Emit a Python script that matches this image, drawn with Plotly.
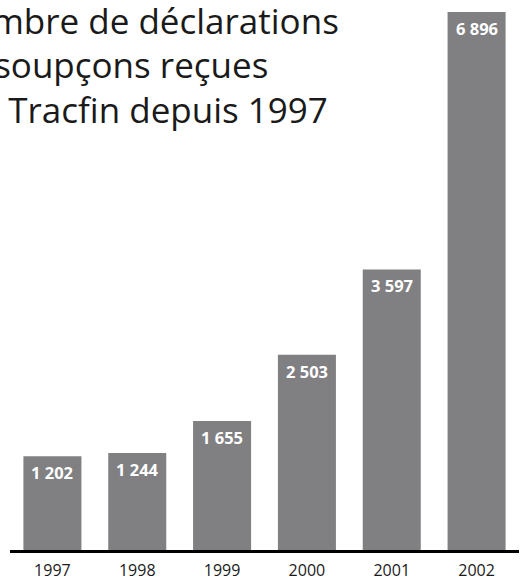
import plotly.graph_objects as go

years = ["1997", "1998", "1999", "2000", "2001", "2002"]
declarations = [1202, 1244, 1655, 2503, 3597, 6896]
title_lines = ["Nombre de déclarations", "de soupçons reçues", "par Tracfin depuis 1997"]

BAR_COLOR = "#808082"
FONT = "Open Sans"
TITLE_SIZE = 35
TITLE_LINE_SHIFTS = [5, -39, -84]  # px offset of each title line from the top

labels = [f"{v:,}".replace(",", " ") for v in declarations]

fig = go.Figure(
    go.Bar(
        x=years,
        y=declarations,
        marker=dict(color=BAR_COLOR, line=dict(width=0)),
        hoverinfo="skip",
    )
)

# annotations on a category axis are positioned by category index
for i, (v, lab) in enumerate(zip(declarations, labels)):
    fig.add_annotation(
        x=i, y=v, xref="x", yref="y",
        text=f"<b>{lab}</b>", showarrow=False,
        xanchor="center", yanchor="top", yshift=-3,
        font=dict(family=FONT, size=16.5, color="white"),
    )

for line, shift in zip(title_lines, TITLE_LINE_SHIFTS):
    fig.add_annotation(
        x=-0.133, y=1, xref="paper", yref="paper",
        text=line, showarrow=False,
        xanchor="left", yanchor="top", align="left", yshift=shift,
        font=dict(family=FONT, size=TITLE_SIZE, color="#1a1a1a"),
    )

fig.update_layout(
    width=532, height=581,
    margin=dict(l=10, r=13, t=0, b=26),
    paper_bgcolor="white", plot_bgcolor="white",
    bargap=0.316,
    showlegend=False,
    xaxis=dict(
        type="category", range=[-0.5, len(years) - 0.5],
        showline=True, linewidth=3, linecolor="black",
        showgrid=False, zeroline=False, ticks="",
        ticklabelstandoff=4,
        tickfont=dict(family=FONT, size=16, color="#1a1a1a"),
        fixedrange=True,
    ),
    yaxis=dict(
        range=[0, 7050], visible=False, showgrid=False, zeroline=False,
        fixedrange=True,
    ),
)

fig.write_html(
    "out.html",
    config={"displayModeBar": False},
    post_script="document.body.style.margin='0';",
)
